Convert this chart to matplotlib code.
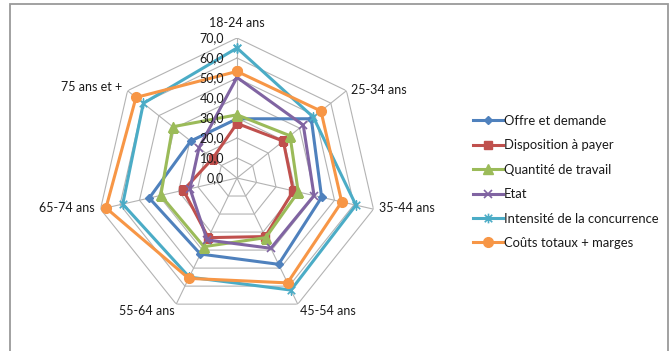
import numpy as np
import matplotlib
matplotlib.use("Agg")
import matplotlib.pyplot as plt
from matplotlib.path import Path
from matplotlib.patches import Rectangle

plt.rcParams['font.family'] = ['Lato', 'DejaVu Sans']

## data
categories = ["18-24 ans", "25-34 ans", "35-44 ans", "45-54 ans",
              "55-64 ans", "65-74 ans", "75 ans et +"]
offre = [29.6, 47.5, 43.4, 47.9, 42.2, 45.0, 29.6]
disposition = [27.3, 29.6, 28.9, 32.5, 33.1, 27.5, 15.6]
quantite = [31.6, 33.9, 31.4, 33.1, 38.1, 39.1, 41.1]
etat = [50.3, 42.4, 39.5, 39.0, 34.4, 24.1, 24.3]
intensite = [65.0, 48.8, 61.0, 62.2, 55.0, 58.6, 59.9]
couts = [53.3, 53.7, 53.7, 58.2, 55.7, 67.2, 64.6]
radial_ticks = [0, 10, 20, 30, 40, 50, 60, 70]

series_names = ["Offre et demande", "Disposition à payer", "Quantité de travail",
                "Etat", "Intensité de la concurrence", "Coûts totaux + marges"]
series_values = [offre, disposition, quantite, etat, intensite, couts]

# excel 2007 look
colors = ["#4F81BD", "#C0504D", "#9BBB59", "#8064A2", "#4BACC6", "#F79646"]
star = Path([(-1, -1), (1, 1), (-1, 1), (1, -1), (0, -1.3), (0, 1.3)],
            [Path.MOVETO, Path.LINETO, Path.MOVETO, Path.LINETO, Path.MOVETO, Path.LINETO])
markers = ["D", "s", "^", "x", star, "o"]
msizes = [4.5, 6, 6.5, 6, 7, 7]

W, H = 670, 351
fig = plt.figure(figsize=(W / 100, H / 100), dpi=100)

# outer chart frame (bottom edge is cut off in the reference)
fig.patches.append(Rectangle((10 / W, -0.05), 658 / W, 1.05 - 4 / H, transform=fig.transFigure,
                             fill=False, edgecolor="#9a9a9a", lw=1.3))

cx, cy, R = 237, 178, 140
ax = fig.add_axes([(cx - R) / W, (H - cy - R) / H, 2 * R / W, 2 * R / H], projection="polar")
ax.set_theta_offset(np.pi / 2)
ax.set_theta_direction(-1)
ax.set_ylim(0, 70)
ax.set_xticks([])
ax.set_yticks([])
ax.grid(False)
ax.spines["polar"].set_visible(False)
ax.patch.set_visible(False)

n = len(categories)
theta = np.arange(n) * 2 * np.pi / n
theta_c = np.append(theta, theta[0])

# heptagon grid + spokes
for r in radial_ticks[1:]:
    ax.plot(theta_c, [r] * (n + 1), color="#b3b3b3", lw=0.8, zorder=1)
for t in theta:
    ax.plot([t, t], [0, 70], color="#b3b3b3", lw=0.8, zorder=1)

# radial labels
for r in radial_ticks:
    ax.annotate(("%.1f" % r).replace(".", ","), xy=(0, r), xytext=(-13, 0),
                textcoords="offset pixels", ha="right", va="center",
                fontsize=9, color="#1a1a1a", zorder=5)

# category labels
label_pos = [((0, 9), "center", "bottom"), ((5, 1), "left", "center"),
             ((6, 1), "left", "center"), ((2, -1), "left", "top"),
             ((-2, -1), "right", "top"), ((-6, 1), "right", "center"),
             ((-5, 4), "right", "center")]
for t, lab, (off, ha, va) in zip(theta, categories, label_pos):
    ax.annotate(lab, xy=(t, 70), xytext=off, textcoords="offset pixels",
                ha=ha, va=va, fontsize=9, color="#1a1a1a")

for name, vals, c, m, ms in zip(series_names, series_values, colors, markers, msizes):
    v = np.append(vals, vals[0])
    fc = "none" if m in ("x",) or m is star else c
    ax.plot(theta_c, v, color=c, lw=2.2, marker=m, ms=ms, mfc=fc, mec=c,
            mew=1.2 if fc == "none" else 1, label=name, zorder=3)

fig.legend(loc="center left", bbox_to_anchor=(466 / W, 1 - 182 / H), frameon=False,
           fontsize=9.4, handlelength=2.3, handletextpad=0.1, labelspacing=0.95,
           borderpad=0, labelcolor="#1a1a1a")

fig.savefig("out.png", dpi=100)
